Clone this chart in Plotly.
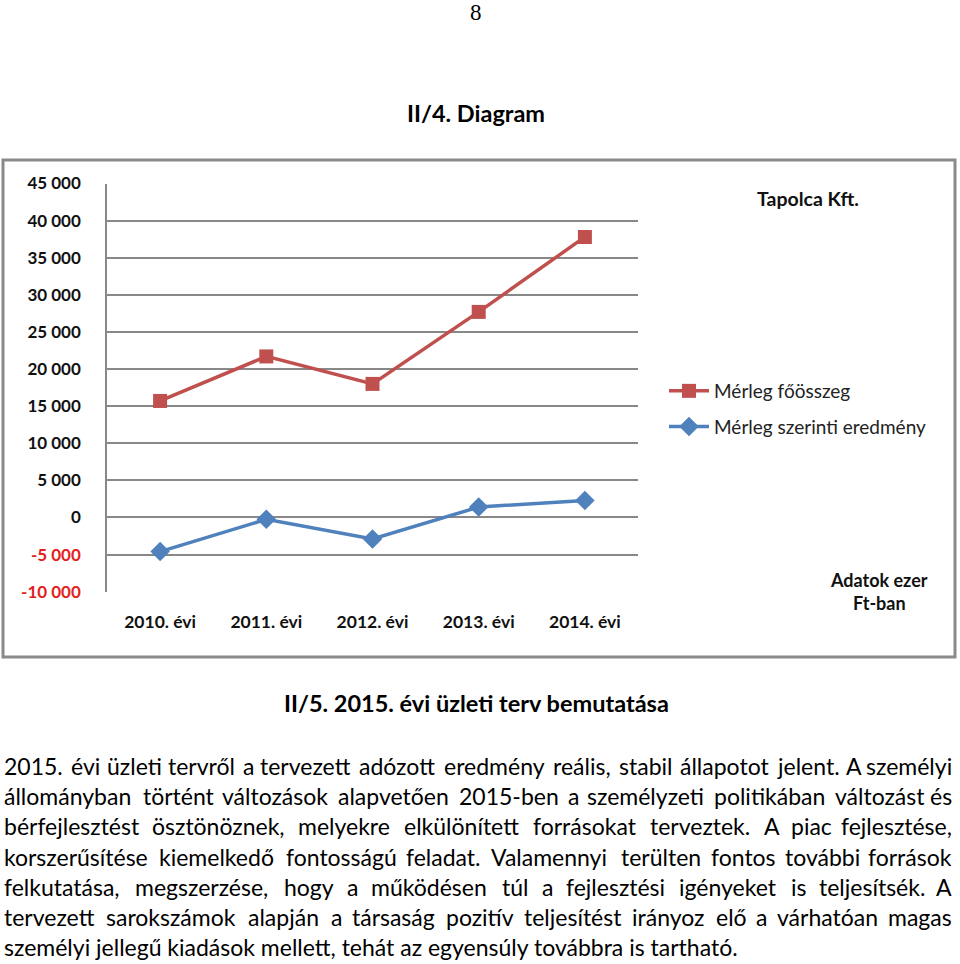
import unicodedata
import plotly.graph_objects as go

# ---------------- data ----------------
categories = ["2010. évi", "2011. évi", "2012. évi", "2013. évi", "2014. évi"]
merleg_foosszeg = [15700, 21700, 18000, 27700, 37800]
merleg_eredmeny = [-4600, -250, -2900, 1400, 2300]
series_names = ["Mérleg főösszeg", "Mérleg szerinti eredmény"]
ytick_vals = [-10000, -5000, 0, 5000, 10000, 15000, 20000, 25000, 30000, 35000, 40000, 45000]
ytick_labels = ["-10 000", "-5 000", "0", "5 000", "10 000", "15 000", "20 000",
                "25 000", "30 000", "35 000", "40 000", "45 000"]
chart_title = "Tapolca Kft."
unit_note = "Adatok ezer<br>Ft-ban"
page_number = "8"
heading_1 = "II/4. Diagram"
heading_2 = "II/5. 2015. évi üzleti terv bemutatása"
body_lines = [
    "2015. évi üzleti tervről a tervezett adózott eredmény reális, stabil állapotot jelent. A személyi",
    "állományban történt változások alapvetően 2015-ben a személyzeti politikában változást és",
    "bérfejlesztést ösztönöznek, melyekre elkülönített forrásokat terveztek. A piac fejlesztése,",
    "korszerűsítése kiemelkedő fontosságú feladat. Valamennyi terülten fontos további források",
    "felkutatása, megszerzése, hogy a működésen túl a fejlesztési igényeket is teljesítsék. A",
    "tervezett sarokszámok alapján a társaság pozitív teljesítést irányoz elő a várhatóan magas",
    "személyi jellegű kiadások mellett, tehát az egyensúly továbbra is tartható.",
]

# ---------------- layout helpers ----------------
W, H = 960, 964
def px(x):
    return x / W
def py(y):
    return 1 - y / H

FONT = "Lato, 'Open Sans', sans-serif"
RED = "#C0504D"
BLUE = "#4F81BD"
GRID = "#888888"

x_idx = list(range(len(categories)))

fig = go.Figure()
fig.add_trace(go.Scatter(
    x=x_idx, y=merleg_foosszeg, name=series_names[0], mode="lines+markers",
    line=dict(color=RED, width=3.5), marker=dict(symbol="square", size=14, color=RED),
    legendgroup="a",
))
fig.add_trace(go.Scatter(
    x=x_idx, y=merleg_eredmeny, name=series_names[1], mode="lines+markers",
    line=dict(color=BLUE, width=3.5), marker=dict(symbol="diamond", size=15, color=BLUE),
    legendgroup="b",
))

yticktext = [
    (f"<b><span style='color:#E41E1E'>{t}</span></b>" if v < 0 else f"<b>{t}</b>")
    for v, t in zip(ytick_vals, ytick_labels)
]

# ---------------- text: word-justified body ----------------
def char_w(c):
    base = unicodedata.normalize("NFD", c)[0]
    if base == " ":
        return 0.193
    if base in "ijlI.,:;'!|":
        return 0.24
    table = {"f": 0.32, "t": 0.35, "r": 0.37, "s": 0.42, "z": 0.44, "c": 0.45,
             "k": 0.50, "v": 0.50, "y": 0.50, "x": 0.49, "g": 0.50, "e": 0.51,
             "a": 0.50, "m": 0.83, "w": 0.76, "-": 0.36, "A": 0.68, "V": 0.66}
    if base in table:
        return table[base]
    if base.isdigit():
        return 0.58
    if base.isupper():
        return 0.65
    return 0.55

BODY_SIZE = 23
LEFT, RIGHT = 2, 954
LINE_Y0, LINE_DY = 766, 30.2

annotations = []
for li, line in enumerate(body_lines):
    yy = py(LINE_Y0 + li * LINE_DY)
    words = line.split(" ")
    if li == len(body_lines) - 1:
        annotations.append(dict(x=px(LEFT), y=yy, xref="paper", yref="paper", text=line,
                                showarrow=False, xanchor="left", yanchor="middle",
                                font=dict(family=FONT, size=BODY_SIZE, color="#000")))
        continue
    widths = [sum(char_w(c) for c in wd) * BODY_SIZE * 1.04 for wd in words]
    gap = (RIGHT - LEFT - sum(widths)) / (len(words) - 1)
    xcur = LEFT
    for wi, (wd, ww) in enumerate(zip(words, widths)):
        last = wi == len(words) - 1
        annotations.append(dict(x=px(RIGHT if last else xcur), y=yy, xref="paper", yref="paper",
                                text=wd, showarrow=False,
                                xanchor="right" if last else "left", yanchor="middle",
                                font=dict(family=FONT, size=BODY_SIZE, color="#000")))
        xcur += ww + gap

annotations += [
    dict(x=px(476), y=py(13), xref="paper", yref="paper", text=page_number, showarrow=False,
         xanchor="center", yanchor="middle",
         font=dict(family="'Liberation Serif', 'Times New Roman', serif", size=23, color="#000")),
    dict(x=px(476), y=py(113), xref="paper", yref="paper", text=f"<b>{heading_1}</b>",
         showarrow=False, xanchor="center", yanchor="middle",
         font=dict(family=FONT, size=23.5, color="#000")),
    dict(x=px(476), y=py(703), xref="paper", yref="paper", text=f"<b>{heading_2}</b>",
         showarrow=False, xanchor="center", yanchor="middle",
         font=dict(family=FONT, size=23.5, color="#000")),
    dict(x=px(808), y=py(199), xref="paper", yref="paper", text=f"<b>{chart_title}</b>",
         showarrow=False, xanchor="center", yanchor="middle",
         font=dict(family=FONT, size=19.5, color="#111")),
    dict(x=px(879), y=py(591), xref="paper", yref="paper", text=f"<b>{unit_note}</b>",
         showarrow=False, xanchor="center", yanchor="middle",
         font=dict(family=FONT, size=18, color="#111")),
]

fig.update_layout(
    width=W, height=H, margin=dict(l=0, r=0, t=0, b=0, autoexpand=False),
    paper_bgcolor="white", plot_bgcolor="white",
    font=dict(family=FONT, color="#111"),
    showlegend=True,
    legend=dict(x=px(664), y=py(372), xanchor="left", yanchor="top",
                font=dict(family=FONT, size=19, color="#222"),
                bgcolor="rgba(0,0,0,0)", traceorder="grouped", tracegroupgap=8,
                itemwidth=40),
    xaxis=dict(domain=[px(107), px(638)], range=[-0.5, 4.5], tickvals=x_idx,
               ticktext=[f"<b>{c}</b>" for c in categories], showgrid=False,
               showline=False, zeroline=False, ticks="", ticklabelstandoff=18,
               tickfont=dict(family=FONT, size=17.5, color="#111"), automargin=False),
    xaxis2=dict(overlaying="x", anchor="free", position=py(517.3), range=[-0.5, 4.5],
                tickvals=[0.5, 1.5, 2.5, 3.5, 4.5], showticklabels=False, ticks="outside",
                ticklen=5, tickwidth=1.5, tickcolor=GRID, showgrid=False, showline=False,
                zeroline=False, automargin=False),
    yaxis=dict(domain=[py(591.7), py(183.5)], range=[-10000, 45000], tickvals=ytick_vals,
               ticktext=yticktext, showgrid=True, gridcolor=GRID, gridwidth=1.5,
               zeroline=False, showline=True, linecolor=GRID, linewidth=1.5, ticks="",
               ticklabelstandoff=21, tickfont=dict(family=FONT, size=17, color="#111"),
               automargin=False),
    shapes=[dict(type="rect", xref="paper", yref="paper", x0=px(3), x1=px(955),
                 y0=py(657), y1=py(160), line=dict(color="#8A8A8A", width=3))],
    annotations=annotations,
)

fig.write_html("out.html", config={"displayModeBar": False},
               post_script="document.body.style.margin='0';")
